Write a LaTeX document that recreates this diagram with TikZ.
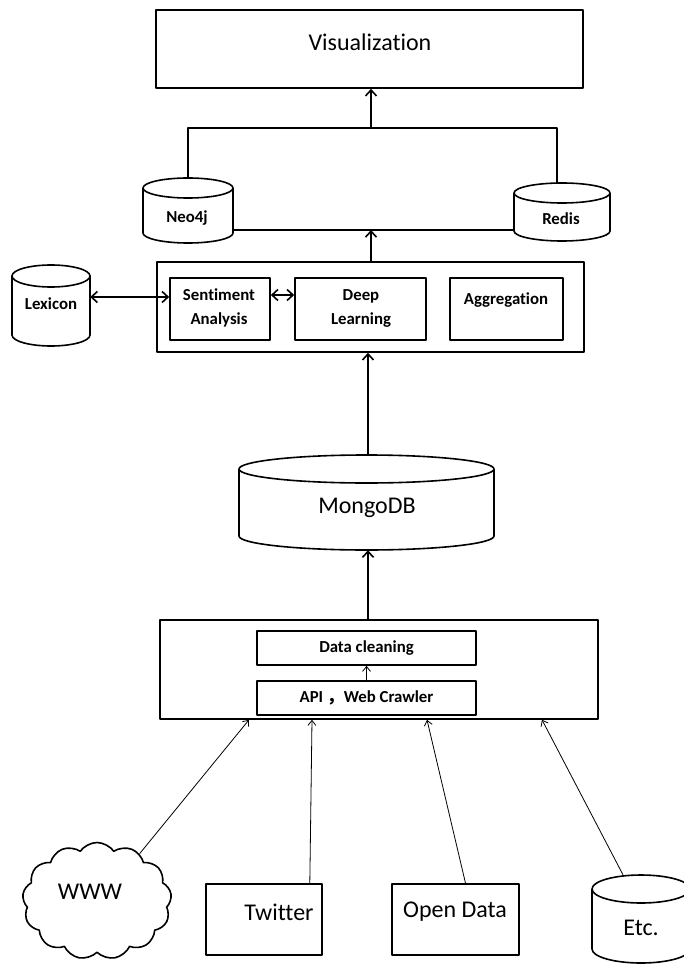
\documentclass[tikz,border=0pt]{standalone}
\usepackage{fontspec}
\setmainfont{Carlito}[Ligatures=NoCommon]
\newfontfamily\cjk{Noto Sans CJK SC}
\usetikzlibrary{arrows.meta,shapes.symbols,calc}
\newcommand\dbcyl[6]{%
  \node[inner sep=0pt, minimum width={#3-#2}, minimum height={#5-#4}] (#1) at ({(#2+#3)/2},{-(#4+#5)/2}) {};
  \draw[thk] ({(#2+#3)/2},{-#4-#6}) ellipse [x radius={(#3-#2)/2}, y radius=#6];
  \draw[thk] (#2,{-#4-#6}) -- (#2,{-#5+#6}) arc [start angle=180, end angle=360, x radius={(#3-#2)/2}, y radius=#6] -- (#3,{-#4-#6});
}
\begin{document}
\begin{tikzpicture}[x=1pt,y=1pt,
  thk/.style={line width=1.6pt, line join=round},
  bx/.style={draw, thk, inner sep=0pt},
  big/.style={font=\fontsize{24}{28}\selectfont},
  sm/.style={font=\bfseries\fontsize{16.8}{24}\selectfont, align=center},
  tarr/.style={thk,-{Straight Barb[length=6pt,width=11pt]}},
  darr/.style={thk,{Straight Barb[length=6pt,width=11pt]}-{Straight Barb[length=6pt,width=11pt]}},
  thn/.style={line width=0.8pt,-{Straight Barb[length=5pt,width=8pt]}},
]
\fill[white] (0,0) rectangle (684,-965);
\clip (0,0) rectangle (684,-965);

% boxes
\node[bx, minimum width=427, minimum height=78] (vis) at (369.5,-49) {};
\node[big] (vist) at (370,-42) {Visualization};

\node[bx, minimum width=427, minimum height=90] (mid) at (370.5,-307) {};
\node[bx, minimum width=100, minimum height=62] (sent) at (220,-309) {};
\node[sm] (sentt) at (219,-308) {Sentiment\\Analysis};
\node[bx, minimum width=131, minimum height=62] (deep) at (360.5,-309) {};
\node[sm] (deept) at (361,-308) {Deep\\Learning};
\node[bx, minimum width=113, minimum height=62] (agg) at (506.5,-309) {};
\node[sm] (aggt) at (506,-300) {Aggregation};

\node[bx, minimum width=438, minimum height=99] (bot) at (379,-669.5) {};
\node[bx, minimum width=219, minimum height=34, sm] (clean) at (366.5,-648) {Data cleaning};
\node[bx, minimum width=219, minimum height=34, sm] (api) at (366.5,-698) {API {\cjk ，}Web Crawler};

\node[bx, minimum width=116, minimum height=71] (tw) at (264,-919.5) {};
\node[big] (twt) at (279,-912) {Twitter};
\node[bx, minimum width=127, minimum height=71] (od) at (455.5,-919.5) {};
\node[big] (odt) at (455,-912) {Open Data};

% cylinders
\dbcyl{neo}{143}{233}{178}{243}{10}
\node[sm] (neot) at (187,-218) {Neo4j};
\dbcyl{redis}{514}{610}{183}{241}{10}
\node[sm] (redist) at (561,-219) {Redis};
\dbcyl{lex}{12}{90}{265}{346}{11}
\node[sm] (lext) at (51,-304) {Lexicon};
\dbcyl{mongo}{239}{494}{455}{550}{14}
\node[big] (mongot) at (367,-508) {MongoDB};
\dbcyl{etc}{592}{690}{875}{963}{14}
\node[big] (etct) at (641,-928) {Etc.};

% cloud
\node[cloud, draw, thk, cloud puffs=13, cloud puff arc=110, aspect=1.27,
      minimum width=149, minimum height=117, inner sep=0pt] (www) at (97,-901) {};
\node[big] (wwwt) at (90,-892) {WWW};

% connectors
\coordinate (k) at (371,-128);
\coordinate (j) at (371,-230);
\draw[tarr] (k) -- (vis.south -| k);
\draw[thk] (neo.north) |- (k) -| (redis.north -| 557,0);
\draw[thk] (neo.east |- j) -- (redis.west |- j);
\draw[tarr] (mid.north -| j) -- (j);
\draw[tarr] (mongo.north -| 368,0) -- (mid.south -| 368,0);
\draw[tarr] (bot.north -| 368,0) -- (mongo.south -| 368,0);
\draw[darr] (lex.east |- 0,-297) -- (sent.west |- 0,-297);
\draw[darr] (sent.east |- 0,-295) -- (deep.west |- 0,-295);
\draw[thn] (api.north) -- (clean.south);

\draw[thn] (www.48) -- (bot.south -| 249,0);
\draw[thn] ([xshift=-13pt]tw.north east) -- (bot.south -| 312,0);
\draw[thn] ([xshift=10pt]od.north) -- (bot.south -| 427,0);
\draw[thn] (etc.north -| 623,0) -- (bot.south -| 542,0);
\end{tikzpicture}
\end{document}
